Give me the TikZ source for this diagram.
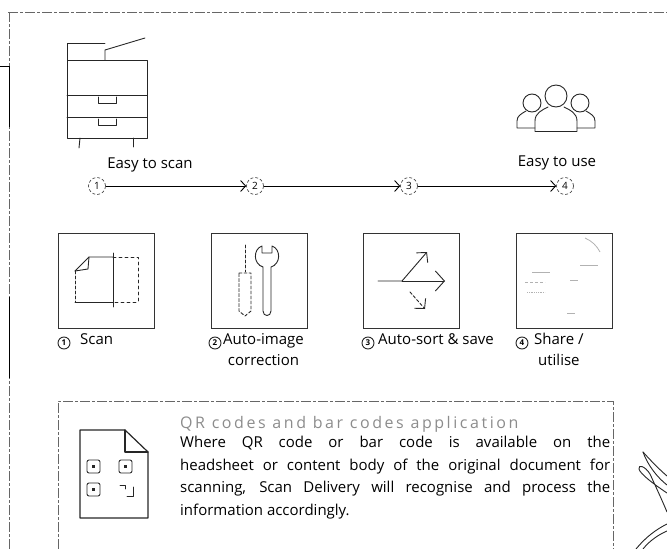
\documentclass[tikz,border=0pt]{standalone}
\usepackage{fontspec}
\setmainfont{Open Sans}
\usetikzlibrary{arrows.meta}

\begin{document}
\begin{tikzpicture}[x=1pt,y=-1pt,
  icon/.style={draw=black!85, line width=0.9pt, line join=round, line cap=round},
  faint/.style={draw=black!30, line width=0.8pt},
  frame/.style={draw=black!60, line width=0.6pt, dash pattern=on 10pt off 2pt on 3pt off 2pt},
  stepbox/.style={draw=black!80, line width=0.7pt, minimum width=96pt, minimum height=95pt, inner sep=0pt},
  num/.style={circle, draw=black!80, densely dashed, line width=0.6pt, minimum size=17pt, inner sep=0pt, font=\fontsize{10}{10}\selectfont},
  smallnum/.style={circle, draw=black!85, line width=0.9pt, minimum size=12pt, inner sep=0pt, font=\fontsize{8}{8}\selectfont\bfseries},
  steptext/.style={anchor=north west, inner sep=0pt, align=center, font=\fontsize{15}{21}\selectfont},
  flow/.style={line width=0.9pt, -{Straight Barb[length=5pt,width=11pt]}}]
\useasboundingbox (0,0) rectangle (667,549);

\draw[frame] (8,12) -- (667,12);
\draw[frame] (9,12) -- (9,549);
\draw[line width=1pt] (0,66) -- (9,66) -- (9,127);
\draw[line width=1pt] (9,297) -- (9,378);

% printer
\draw[icon] (67,60) -- (67,43) -- (105,43);
\draw[icon] (105,60) -- (105,50) -- (145,38);
\draw[icon] (67,60) rectangle (147,138);
\draw[icon] (67,95) -- (147,95);
\draw[icon] (67,117) -- (147,117);
\draw[icon] (98,97) -- (98,103) -- (116,103) -- (116,97);
\draw[icon] (98,119) -- (98,125) -- (116,125) -- (116,119);
\draw[icon] (80,138) -- (79,148);
\draw[icon] (133,138) -- (133,147);
\node[font=\fontsize{15}{15}\selectfont] (scan) at (150,165) {Easy to scan};

% users
\draw[icon] (556,96) circle (11);
\draw[icon] (535,131) -- (535,121) .. controls (535,113) and (542,110) .. (548,107);
\draw[icon] (577,131) -- (577,121) .. controls (577,113) and (570,110) .. (564,107);
\draw[icon] (535,131) -- (577,131);
\draw[icon] (532,103) circle (9);
\draw[icon] (535,128) -- (517,128) -- (517,121) .. controls (517,116) and (521,114) .. (526,111);
\draw[icon] (580,103) circle (9);
\draw[icon] (577,128) -- (595,128) -- (595,121) .. controls (595,116) and (591,114) .. (586,111);
\node[font=\fontsize{15}{15}\selectfont] (use) at (557,163) {Easy to use};

\node[num] (n1) at (97,186) {1};
\node[num] (n2) at (255,186) {2};
\node[num] (n3) at (409,186) {3};
\node[num] (n4) at (565,186) {4};
\draw[flow] (n1) -- (n2);
\draw[flow] (n2) -- (n3);
\draw[flow] (n3) -- (n4);

\node[stepbox] (box1) at (106,280.5) {};
\node[stepbox] (box2) at (259,280.5) {};
\node[stepbox] (box3) at (411,280.5) {};
\node[stepbox] (box4) at (564.5,280.5) {};

% scan
\draw[icon] (75,271) -- (89,257) -- (113,257);
\draw[icon] (89,257) -- (88,269) -- (75,271);
\draw[icon, densely dashed] (75,271) -- (75,302);
\draw[icon] (75,302) -- (113,302);
\draw[icon] (113,253) -- (113,307);
\draw[icon, dashed] (113,257) -- (138,257) -- (138,302) -- (113,302);

% tools
\draw[icon, densely dashed] (245,245) -- (245,272);
\draw[icon, densely dashed] (239,273) -- (251,273) -- (251,311) -- (245,316) -- (239,311) -- cycle;
\draw[icon] (262,246) -- (262,253) -- (272,253) -- (272,246)
  .. controls (281,249) and (281,264) .. (271,267) -- (271,311)
  .. controls (271,317) and (263,317) .. (263,311) -- (263,267)
  .. controls (253,264) and (253,249) .. (262,246) -- cycle;

% sort
\draw[icon, -{Straight Barb[length=7pt,width=15pt]}] (378,281) -- (402,281) -- (427,252);
\draw[icon, -{Straight Barb[length=9pt,width=20pt]}] (402,281) -- (445,281);
\draw[icon, densely dashed, -{Straight Barb[length=7pt,width=15pt]}] (410,292) -- (425,309);

% share
\draw[faint] (585,238) .. controls (592,241) and (597,246) .. (600,252);
\draw[faint] (532,272) -- (550,272);
\draw[faint] (580,265) -- (598,265);
\draw[faint] (570,280) -- (578,280);
\draw[faint, densely dashed] (525,282) -- (545,282);
\draw[faint] (567,313) -- (575,313);
\draw[faint, densely dotted] (527,292) -- (545,292);

\node[smallnum] (s1) at (64,343) {1};
\node[steptext] (t1) at (80,333) {Scan};
\node[smallnum] (s2) at (215,343) {2};
\node[steptext] (t2) at (223,333) {Auto-image\\correction};
\node[smallnum] (s3) at (368,343) {3};
\node[steptext] (t3) at (378,333) {Auto-sort \& save};
\node[smallnum] (s4) at (522,343) {4};
\node[steptext] (t4) at (534,333) {Share /\\utilise};

% QR info
\draw[frame] (58,549) -- (58,401) -- (613,401) -- (613,549);
\draw[icon, line width=1.2pt] (80,430) -- (125,430) -- (148,452) -- (148,518) -- (80,518) -- cycle;
\draw[icon, line width=1.2pt] (125,430) -- (125,452) -- (148,452);
\foreach \qx/\qy in {87/460, 119/460, 87/483} {
  \draw[icon, rounded corners=2pt] (\qx,\qy) rectangle ++(13,13);
  \fill[black!85] (\qx+5,\qy+5) rectangle ++(3,3);
}
\draw[icon] (120,485) -- (125,485) -- (125,489);
\draw[icon] (133,487) -- (133,496) -- (127,496);

\node[anchor=base west, inner sep=0pt, text=black!45,
  font=\addfontfeatures{LetterSpace=16}\fontsize{16}{16}\selectfont] (title) at (180,428)
  {QR codes and bar codes application};
\node[anchor=north west, inner sep=0pt, text width=430pt, align=justify,
  font=\fontsize{15}{22.5}\selectfont] (body) at (180,436)
  {Where QR code or bar code is available on the\linebreak
   headsheet or content body of the original document for\linebreak
   scanning, Scan Delivery will recognise and process the\linebreak
   information accordingly.};

% leaf
\draw[icon] (643,452) .. controls (652,462) and (660,470) .. (667,476);
\draw[icon] (643,452) .. controls (648,466) and (658,478) .. (667,485);
\draw[icon] (667,493) .. controls (655,485) and (640,474) .. (639,469)
  .. controls (638,464) and (645,466) .. (650,474) .. controls (655,485) and (662,500) .. (667,512);
\draw[icon] (636,549) .. controls (645,538) and (655,530) .. (667,524);
\draw[icon] (643,549) .. controls (650,540) and (660,534) .. (667,531);
\end{tikzpicture}
\end{document}
